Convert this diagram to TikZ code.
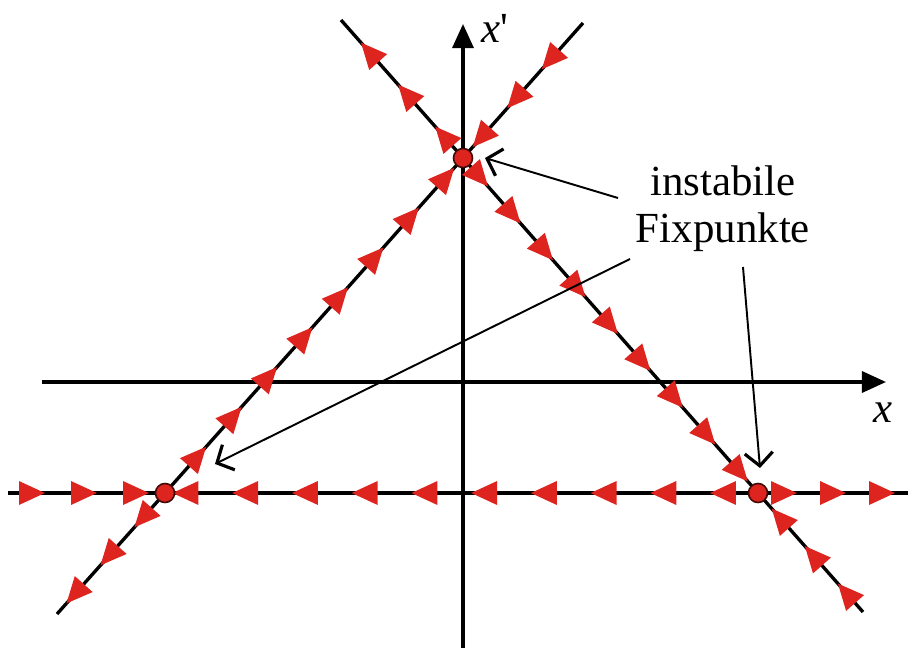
\documentclass[tikz,border=0pt]{standalone}
\usepackage{fontspec}
\setmainfont{Liberation Serif}
\usetikzlibrary{arrows.meta,decorations.markings}
\definecolor{flowred}{RGB}{221,36,30}

\begin{document}
\begin{tikzpicture}[
    x=0.01cm, y=-0.01cm,
    axis/.style={line width=0.95pt, -{Triangle[length=2.4mm,width=2.1mm]}},
    traj/.style={line width=0.95pt},
    flow/.style={traj, postaction={decorate}, decoration={markings,
        mark=between positions #1 with {\arrow[flowred]{Triangle[length=2.6mm,width=2.3mm]}}}},
    fixpt/.style={circle, draw=black!70!flowred, fill=flowred, line width=0.45pt,
        minimum size=0.19cm, inner sep=0pt},
    note/.style={line width=0.55pt, -{Straight Barb[length=1.3mm,width=2.8mm,line width=0.9pt]}},
    lbl/.style={font=\fontsize{12.2}{13.3}\selectfont, align=center, inner sep=0pt}
]
\useasboundingbox (0,0) rectangle (908,648);
% Fixed points and line ends
\coordinate (A) at (165,493);
\coordinate (B) at (758,493);
\coordinate (C) at (463,158);
\coordinate (hl) at (8,493);
\coordinate (hr) at (908,493);
\coordinate (rt) at (341,20);
\coordinate (rb) at (863,612);
\coordinate (lt) at (583,23);
\coordinate (lb) at (57,614);
% Axes
\coordinate (xs) at (42,382);
\coordinate (xe) at (886,382);
\coordinate (ys) at (463,648);
\coordinate (ye) at (463,24);
\draw[axis] (xs) -- (xe);
\draw[axis] (ys) -- (ye);
\node[lbl, anchor=base west] (xlab) at (873,422) {\textit{x}};
\node[lbl, anchor=base west] (xplab) at (481,42) {\textit{x}\textquotesingle};
% Trajectories with flow direction
\draw[flow={0.37cm and 1.42cm step 0.52cm}] (hl) -- (A);
\draw[flow={0.48cm and 5.86cm step 0.597cm}] (B) -- (A);
\draw[flow={0.39cm and 1.38cm step 0.49cm}] (B) -- (hr);
\draw[flow={0.42cm and 1.55cm step 0.56cm}] (C) -- (rt);
\draw[flow={0.38cm and 4.32cm step 0.491cm}] (C) -- (B);
\draw[flow={0.38cm and 1.39cm step 0.5cm}] (rb) -- (B);
\draw[flow={0.62cm and 1.67cm step 0.52cm}] (lt) -- (C);
\draw[flow={0.62cm and 4.36cm step 0.533cm}] (A) -- (C);
\draw[flow={0.46cm and 1.50cm step 0.51cm}] (A) -- (lb);
% Fixed points
\node[fixpt] (fpA) at (A) {};
\node[fixpt] (fpB) at (B) {};
\node[fixpt] (fpC) at (C) {};
% Annotation
\node[lbl] (unst) at (723,209) {instabile\\Fixpunkte};
\coordinate (t1) at (618,198);
\coordinate (t2) at (630,259);
\coordinate (t3) at (743,267);
\draw[note] (t1) -- ([xshift=0.22cm]fpC.center);
\draw[note] (t2) -- ([xshift=0.5cm,yshift=0.29cm]fpA.center);
\draw[note] (t3) -- ([xshift=0.02cm,yshift=0.25cm]fpB.center);
\end{tikzpicture}
\end{document}
